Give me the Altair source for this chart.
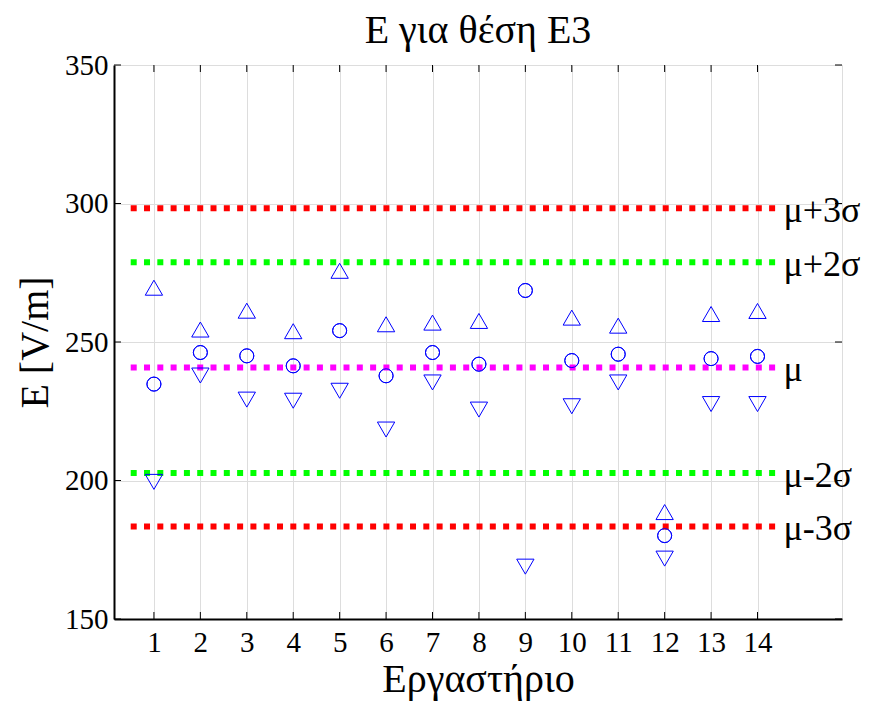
import altair as alt
import pandas as pd

# Laboratory index on the x axis
labs = list(range(1, 15))

# Field strength E [V/m] per laboratory: upper bound, mean, lower bound
e_upper = [269.6, 254.5, 261.3, 253.9, 275.7, 256.4, 257.0, 257.6, None, 258.8, 255.9, 188.6, 260.1, 261.2]
e_mean = [234.8, 246.2, 245.0, 241.4, 254.1, 237.8, 246.2, 242.0, 268.6, 243.3, 245.6, 180.1, 244.0, 244.8]
e_lower = [199.5, 237.9, 229.2, 228.8, 232.4, 218.4, 235.4, 225.6, 168.9, 226.8, 235.4, 171.8, 227.6, 227.6]

# Reference levels (mean and sigma bands)
level_names = ["μ+3σ", "μ+2σ", "μ", "μ-2σ", "μ-3σ"]
level_values = [298.3, 278.8, 240.8, 202.7, 183.4]
level_colors = ["#ff0000", "#00ff00", "#ff00ff", "#00ff00", "#ff0000"]

x_ticks = labs
y_ticks = [150, 200, 250, 300, 350]

chart_title = "Ε για θέση Ε3"

FONT = "Liberation Serif"
W, H = 728, 554

rows = []
for kind, vals in (("upper", e_upper), ("mean", e_mean), ("lower", e_lower)):
    for lab, v in zip(labs, vals):
        if v is not None:
            rows.append({"lab": lab, "E": v, "kind": kind})
pts = pd.DataFrame(rows)
levels = pd.DataFrame({"name": level_names, "E": level_values, "color": level_colors})
xt = pd.DataFrame({"lab": x_ticks})
yt = pd.DataFrame({"E": y_ticks})

xs = alt.Scale(domain=[0.14, 15.82], nice=False, zero=False)
ys = alt.Scale(domain=[150, 350], nice=False, zero=False)

x_axis = alt.Axis(values=x_ticks, grid=True, ticks=False, labelFontSize=29, labelFont=FONT,
                  labelColor="black", labelPadding=9, titleFontSize=40, titleFont=FONT,
                  titleFontWeight="normal", titleColor="black", titlePadding=2,
                  domainColor="black", domainWidth=2, format="d", labelFlush=False)
y_axis = alt.Axis(values=y_ticks, grid=True, ticks=False, labelFontSize=29, labelFont=FONT,
                  labelColor="black", labelPadding=6, titleFontSize=40, titleFont=FONT,
                  titleFontWeight="normal", titleColor="black", titlePadding=9,
                  domainColor="black", domainWidth=2, format="d", labelFlush=False)

X = alt.X("lab:Q", scale=xs, axis=x_axis, title="Εργαστήριο")
Y = alt.Y("E:Q", scale=ys, axis=y_axis, title="E [V/m]")

base = alt.Chart(pts).encode(x=X, y=Y)

mean_pts = base.transform_filter(alt.datum.kind == "mean").mark_point(
    shape="circle", size=196, filled=False, color="#0000ff", strokeWidth=1, opacity=1)
up_pts = base.transform_filter(alt.datum.kind == "upper").mark_point(
    shape="triangle-up", size=300, filled=False, color="#0000ff", strokeWidth=1, opacity=1)
low_pts = base.transform_filter(alt.datum.kind == "lower").mark_point(
    shape="triangle-down", size=300, filled=False, color="#0000ff", strokeWidth=1, opacity=1)

level_lines = alt.Chart(levels).mark_rule(strokeWidth=6, strokeDash=[6, 7.3], strokeCap="butt").encode(
    x=alt.datum(0.5), x2=alt.datum(14.5), y=alt.Y("E:Q", scale=ys),
    color=alt.Color("color:N", scale=None))

level_text = alt.Chart(levels).mark_text(align="left", baseline="middle", fontSize=36, font=FONT,
                                         color="black", dy=3).encode(
    x=alt.datum(14.56), y=alt.Y("E:Q", scale=ys), text="name:N")

# Chart heading, centred above the plot box
heading = alt.Chart(pd.DataFrame({"t": [chart_title]})).mark_text(
    align="center", baseline="alphabetic", fontSize=40, font=FONT, color="black").encode(
    x=alt.value(W / 2), y=alt.value(-22), text="t:N")

# Inward tick marks on all four sides of the box
tick_b = alt.Chart(xt).mark_rule(color="black", strokeWidth=1).encode(
    x=alt.X("lab:Q", scale=xs), y=alt.value(H), y2=alt.value(H - 7))
tick_t = alt.Chart(xt).mark_rule(color="black", strokeWidth=1).encode(
    x=alt.X("lab:Q", scale=xs), y=alt.value(0), y2=alt.value(7))
tick_l = alt.Chart(yt).mark_rule(color="black", strokeWidth=1).encode(
    y=alt.Y("E:Q", scale=ys), x=alt.value(0), x2=alt.value(7))
tick_r = alt.Chart(yt).mark_rule(color="black", strokeWidth=1).encode(
    y=alt.Y("E:Q", scale=ys), x=alt.value(W), x2=alt.value(W - 7))

chart = alt.layer(
    mean_pts, level_lines, up_pts, low_pts, mean_pts, level_text, heading,
    tick_b, tick_t, tick_l, tick_r
).properties(
    width=W, height=H,
    autosize=alt.AutoSizeParams(type="none"),
    padding={"left": 114, "top": 65, "right": 33, "bottom": 87},
).configure_view(
    stroke="black", strokeWidth=1.5
).configure_axis(
    gridColor="#858585", gridWidth=1, gridOpacity=1
).configure(background="white")

chart.save("out.html", embed_options={"renderer": "svg", "actions": False})
